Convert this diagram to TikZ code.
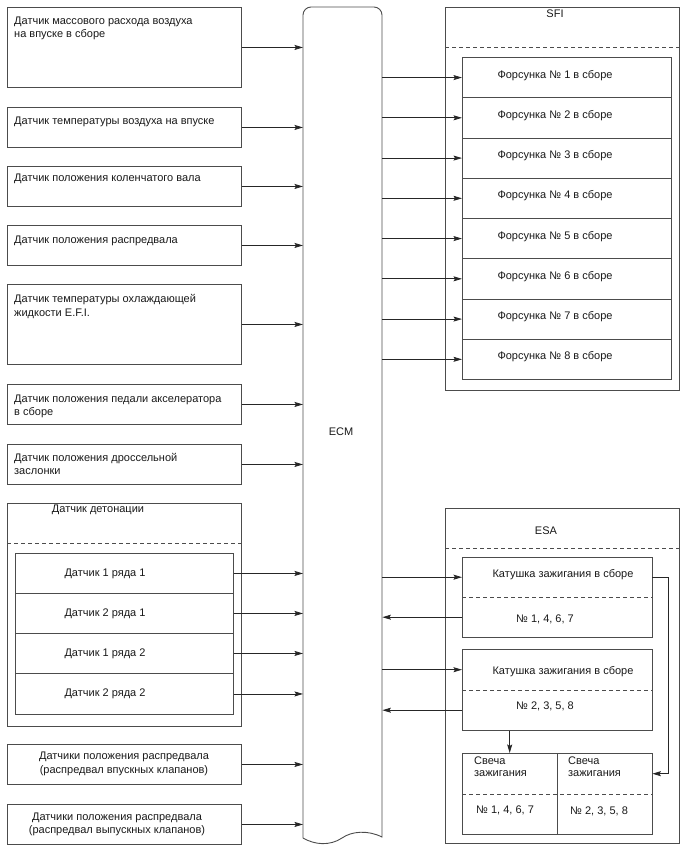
\documentclass[tikz,border=0pt]{standalone}
\usepackage{fontspec}
\setmainfont{Liberation Sans}
\usetikzlibrary{arrows.meta}
\begin{document}
\begin{tikzpicture}[x=1pt,y=-1pt,
  box/.style={draw=black!70, line width=0.9pt, inner sep=0pt, anchor=north west},
  cell/.style={inner sep=0pt, anchor=north west},
  dsh/.style={draw=black!70, line width=0.9pt, dash pattern=on 4pt off 3pt},
  sline/.style={draw=black!70, line width=0.9pt},
  txt/.style={inner sep=0pt, font=\fontsize{11}{13}\selectfont, text=black!90},
  lt/.style={txt, anchor=base west},
  ct/.style={txt, anchor=base},
  arr/.style={draw=black!85, line width=0.8pt, -{Stealth[length=8.5pt,width=5pt,inset=1.5pt]}},
]
\useasboundingbox (0,0) rectangle (688,852);

% ---------- ECM ----------
\node[cell, minimum width=79pt, minimum height=831pt] (ecm) at (303,7) {};
\draw[sline] (ecm.north west) ++(0,831) -- ++(0,-823) arc[start angle=180, end angle=90, radius=8pt]
  -- ++(63,0) arc[start angle=90, end angle=0, radius=8pt] -- ++(0,822)
  .. controls (368,830) and (352,831) .. (342,838)
  .. controls (330,846) and (315,845) .. (303,838);
\node[ct] (ecml) at (341,435) {ECM};

% ---------- left sensors ----------
\node[box, minimum width=234pt, minimum height=80pt] (b1) at (7,7) {};
\node[lt] at (14,24) {Датчик массового расхода воздуха};
\node[lt] at (14,37) {на впуске в сборе};

\node[box, minimum width=234pt, minimum height=40pt] (b2) at (7,107) {};
\node[lt] at (14,124) {Датчик температуры воздуха на впуске};

\node[box, minimum width=234pt, minimum height=40pt] (b3) at (7,166) {};
\node[lt] at (14,181) {Датчик положения коленчатого вала};

\node[box, minimum width=234pt, minimum height=40pt] (b4) at (7,225) {};
\node[lt] at (14,243) {Датчик положения распредвала};

\node[box, minimum width=234pt, minimum height=80pt] (b5) at (7,284) {};
\node[lt] at (14,302) {Датчик температуры охлаждающей};
\node[lt] at (14,316) {жидкости E.F.I.};

\node[box, minimum width=234pt, minimum height=40pt] (b6) at (7,384) {};
\node[lt] at (14,402) {Датчик положения педали акселератора};
\node[lt] at (14,415) {в сборе};

\node[box, minimum width=234pt, minimum height=40pt] (b7) at (7,444) {};
\node[lt] at (14,461) {Датчик положения дроссельной};
\node[lt] at (14,474) {заслонки};

% knock sensors
\node[box, minimum width=234pt, minimum height=223pt] (knock) at (7,503) {};
\node[ct] at (98,512.5) {Датчик детонации};
\draw[dsh] (knock.west |- 0,543) -- (knock.east |- 0,543);
\node[box, minimum width=218pt, minimum height=40pt] (k1) at (15,553) {};
\node[box, minimum width=218pt, minimum height=40pt] (k2) at (15,593) {};
\node[box, minimum width=218pt, minimum height=40pt] (k3) at (15,633) {};
\node[box, minimum width=218pt, minimum height=41pt] (k4) at (15,673) {};
\node[ct] at (105,576.5) {Датчик 1 ряда 1};
\node[ct] at (105,616.5) {Датчик 2 ряда 1};
\node[ct] at (105,656.5) {Датчик 1 ряда 2};
\node[ct] at (105,696.5) {Датчик 2 ряда 2};

\node[box, minimum width=234pt, minimum height=40pt] (b9) at (7,744) {};
\node[ct] at (124,759.5) {Датчики положения распредвала};
\node[ct] at (124,773) {(распредвал впускных клапанов)};

\node[box, minimum width=234pt, minimum height=40pt] (b10) at (7,804) {};
\node[ct] at (117,820) {Датчики положения распредвала};
\node[ct] at (117,833) {(распредвал выпускных клапанов)};

\foreach \n in {b1,b2,b3,b4,b5,b6,b7,k1,k2,k3,k4,b9,b10}
  \draw[arr] (\n.east) -- (\n.east -| ecm.west);

% ---------- SFI ----------
\node[box, minimum width=234pt, minimum height=383pt] (sfi) at (445,7) {};
\node[ct] at (555,17) {SFI};
\draw[dsh] (sfi.west |- 0,47) -- (sfi.east |- 0,47);
\foreach \i in {1,...,8} {
  \node[box, minimum width=209pt, minimum height=40.25pt] (f\i) at (462,{57+40.25*(\i-1)}) {};
  \node[ct] at (555,{78+40.25*(\i-1)}) {Форсунка № \i\ в сборе};
  \draw[arr] (f\i.west -| ecm.east) -- (f\i.west);
}

% ---------- ESA ----------
\node[box, minimum width=234pt, minimum height=335pt] (esa) at (445,508) {};
\node[ct] at (546,534) {ESA};
\draw[dsh] (esa.west |- 0,548) -- (esa.east |- 0,548);

% coil 1
\node[box, minimum width=190pt, minimum height=80pt] (c1) at (462,557) {};
\node[cell, minimum width=190pt, minimum height=40pt] (c1u) at (462,557) {};
\node[cell, minimum width=190pt, minimum height=40pt] (c1l) at (462,597) {};
\draw[dsh] (c1l.north west) -- (c1l.north east);
\node[ct] at (563,577) {Катушка зажигания в сборе};
\node[ct] at (545,622) {№ 1, 4, 6, 7};

% coil 2
\node[box, minimum width=190pt, minimum height=81pt] (c2) at (462,649) {};
\node[cell, minimum width=190pt, minimum height=41pt] (c2u) at (462,649) {};
\node[cell, minimum width=190pt, minimum height=40pt] (c2l) at (462,690) {};
\draw[dsh] (c2l.north west) -- (c2l.north east);
\node[ct] at (563,674) {Катушка зажигания в сборе};
\node[ct] at (545,709) {№ 2, 3, 5, 8};

% spark plugs
\node[box, minimum width=190pt, minimum height=81pt] (sp) at (462,753) {};
\node[cell, minimum width=95pt, minimum height=41pt] (splu) at (462,753) {};
\node[cell, minimum width=95pt, minimum height=41pt] (spru) at (557,753) {};
\draw[sline] (spru.north west) -- (spru.north west |- sp.south);
\draw[dsh] (sp.west |- splu.south) -- (sp.east |- splu.south);
\node[lt] at (474,764.5) {Свеча};
\node[lt] at (474,776.5) {зажигания};
\node[lt] at (568,764.5) {Свеча};
\node[lt] at (568,776.5) {зажигания};
\node[lt] at (476,813) {№ 1, 4, 6, 7};
\node[lt] at (570,814.5) {№ 2, 3, 5, 8};

% connectors
\draw[arr] (c1u.west -| ecm.east) -- (c1u.west);
\draw[arr] (c1l.west) -- (c1l.west -| ecm.east);
\draw[arr] (c2u.west -| ecm.east) -- (c2u.west);
\draw[arr] (c2l.west) -- (c2l.west -| ecm.east);
\draw[arr] (c2.south -| splu.north) -- (splu.north);
\draw[arr] (c1u.east) -- ++(16,0) |- (spru.east);
\end{tikzpicture}
\end{document}
